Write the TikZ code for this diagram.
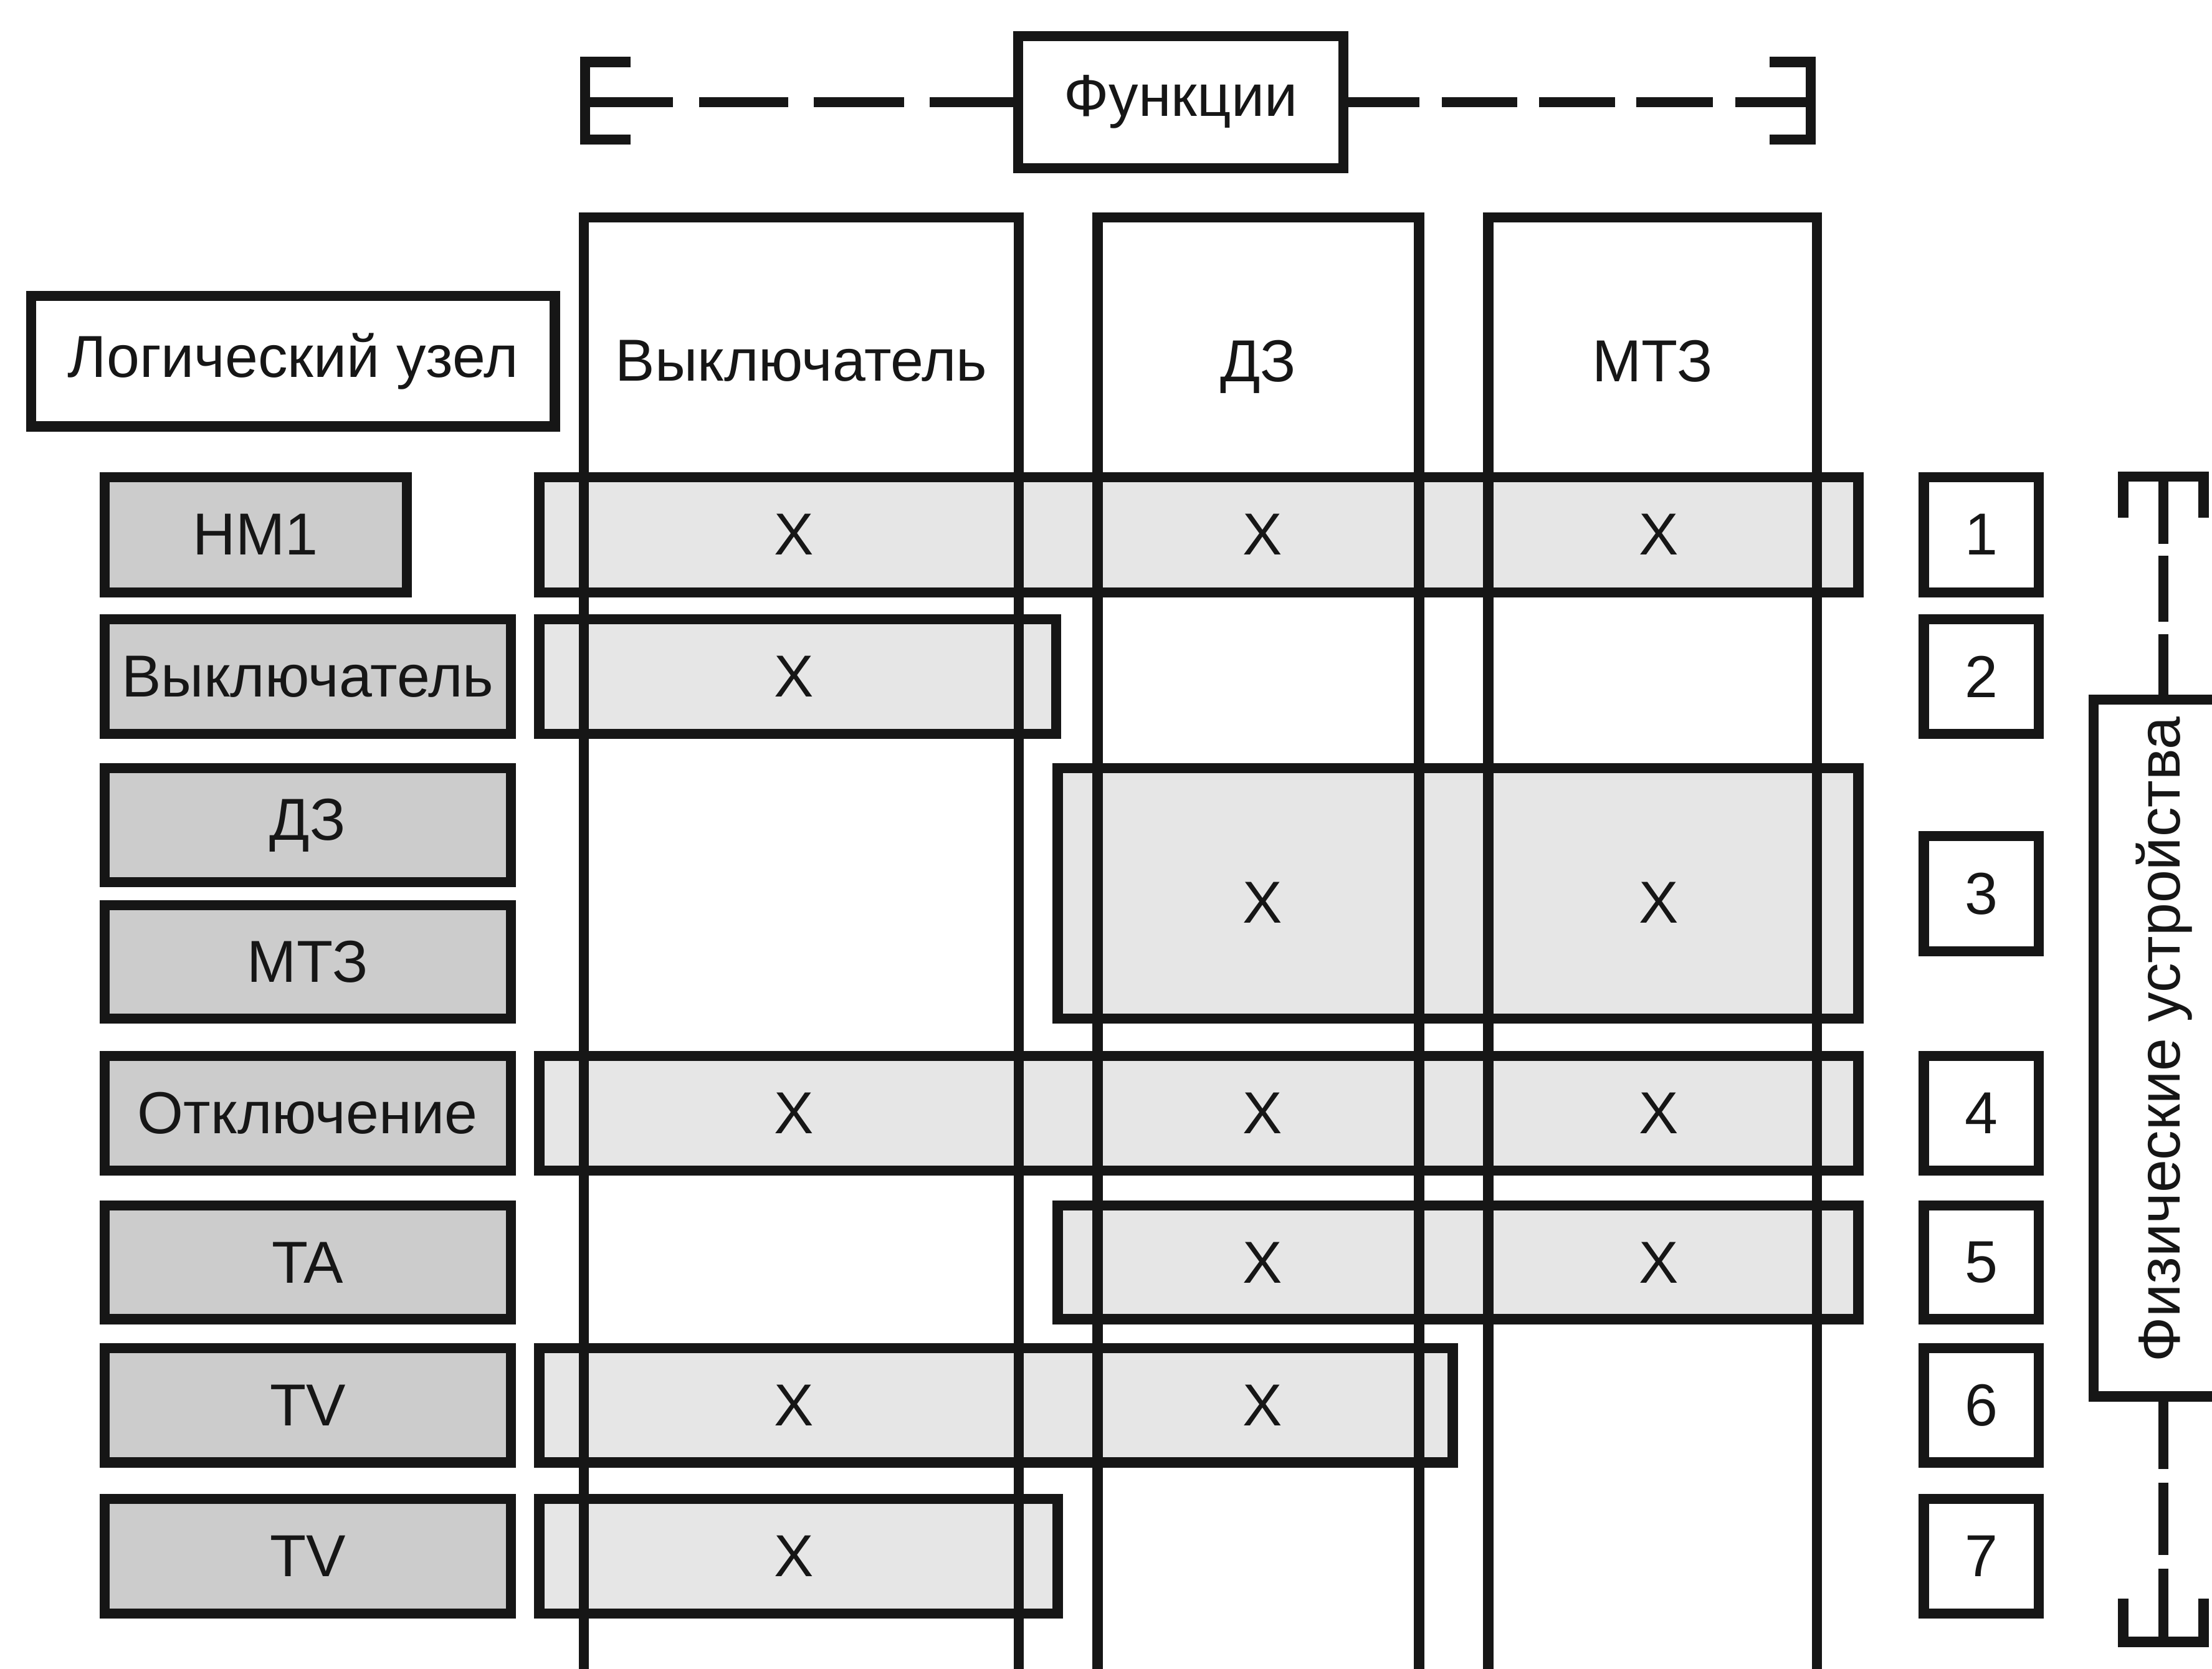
\documentclass[tikz,border=0pt]{standalone}
\usepackage{fontspec}
\setmainfont{Liberation Sans}
\usetikzlibrary{fit}
\definecolor{ink}{HTML}{161616}
\definecolor{nodegray}{HTML}{CCCCCC}
\definecolor{rowgray}{HTML}{E6E6E6}
\tikzset{
  frame/.style={draw=ink, line width=3.6pt, inner sep=0pt, outer sep=0pt, line join=miter},
  lnode/.style={frame, fill=nodegray},
  rowbox/.style={frame, fill=rowgray},
  wbox/.style={frame, fill=white},
  lbl/.style={inner sep=0pt, text=ink, font=\fontsize{21}{25}\selectfont},
  rule/.style={draw=ink, line width=3.6pt, line join=miter},
}
\begin{document}
\begin{tikzpicture}[x=0.5pt, y=-0.5pt]
\useasboundingbox (0,0) rectangle (1568,1183);
\clip (0,0) rectangle (1568,1183);

% ---- Functions header with bracket ----
\node[wbox, fit={(721.7,25.5) (952.3,119.3)}] (func) {};
\node[lbl] (tfunc) at (func.center) {Функции};
\draw[rule] (447,44) -- (414.6,44) -- (414.6,99) -- (447,99);
\draw[rule] (414.6,72.4) -- (477,72.4);
\draw[rule] (495.5,72.4) -- (558.7,72.4);
\draw[rule] (577,72.4) -- (641,72.4);
\draw[rule] (func.west) -- ++(-62.7,0);
\draw[rule] (func.east) -- ++(53.7,0);
\draw[rule] (1022,72.4) -- (1075.5,72.4);
\draw[rule] (1091,72.4) -- (1145,72.4);
\draw[rule] (1160,72.4) -- (1214,72.4);
\draw[rule] (1230,72.4) -- (1283.5,72.4);
\draw[rule] (1254.5,44) -- (1283.5,44) -- (1283.5,99) -- (1254.5,99);

% ---- Logical node title ----
\node[wbox, fit={(22,209.7) (393.3,302.3)}] (logic) {};
\node[lbl] (tlogic) at (logic.center) {Логический узел};

% ---- column headers ----
\node[lbl] (h1) at (568,256) {Выключатель};
\node[lbl, text depth=0pt] (h2) at (892,256) {ДЗ};
\node[lbl] (h3) at (1171.5,256) {МТЗ};

% ---- left logical nodes ----
\node[lnode, fit={(74.1,338.2) (288.3,419.9)}] (hm1) {};
\node[lbl] (thm1) at (hm1.center) {HM1};
\node[lnode, fit={(74.1,439.1) (362.1,520.3)}] (vykl) {};
\node[lbl] (tvykl) at (vykl.center) {Выключатель};
\node[lnode, fit={(74.1,544.7) (362.1,625.3)}] (dz) {};
\node[lbl] (tdz) at (dz.center) {ДЗ};
\node[lnode, fit={(74.1,641.7) (362.1,722.3)}] (mtz) {};
\node[lbl] (tmtz) at (mtz.center) {МТЗ};
\node[lnode, fit={(74.1,748.7) (362.1,829.8)}] (otkl) {};
\node[lbl] (totkl) at (otkl.center) {Отключение};
\node[lnode, fit={(74.1,854.7) (362.1,935.3)}] (ta) {};
\node[lbl] (tta) at (ta.center) {TA};
\node[lnode, fit={(74.1,955.7) (362.1,1036.9)}] (tva) {};
\node[lbl] (ttva) at (tva.center) {TV};
\node[lnode, fit={(74.1,1062.7) (362.1,1143.9)}] (tvb) {};
\node[lbl] (ttvb) at (tvb.center) {TV};

% ---- row boxes ----
\node[rowbox, fit={(382.3,338.2) (1317.3,419.9)}] (r1) {};
\node[rowbox, fit={(382.3,439.1) (748.5,520.3)}] (r2) {};
\node[rowbox, fit={(749.7,544.7) (1317.3,722.3)}] (r3) {};
\node[rowbox, fit={(382.3,748.7) (1317.3,829.8)}] (r4) {};
\node[rowbox, fit={(749.7,854.7) (1317.3,935.3)}] (r5) {};
\node[rowbox, fit={(382.3,955.7) (1029.8,1036.9)}] (r6) {};
\node[rowbox, fit={(382.3,1062.7) (749.8,1143.9)}] (r7) {};

% ---- columns (open at the bottom) ----
\draw[rule] (414,1195) -- (414,154) -- (722,154) -- (722,1195);
\draw[rule] (778,1195) -- (778,154) -- (1006,154) -- (1006,1195);
\draw[rule] (1055,1195) -- (1055,154) -- (1288,154) -- (1288,1195);

% ---- X marks ----
\node[lbl] (x11) at (563,379) {X};
\node[lbl] (x12) at (895,379) {X};
\node[lbl] (x13) at (1176,379) {X};
\node[lbl] (x21) at (563,479.7) {X};
\node[lbl] (x32) at (895,640) {X};
\node[lbl] (x33) at (1176,640) {X};
\node[lbl] (x41) at (563,789.3) {X};
\node[lbl] (x42) at (895,789.3) {X};
\node[lbl] (x43) at (1176,789.3) {X};
\node[lbl] (x52) at (895,895) {X};
\node[lbl] (x53) at (1176,895) {X};
\node[lbl] (x61) at (563,996.3) {X};
\node[lbl] (x62) at (895,996.3) {X};
\node[lbl] (x71) at (563,1103.3) {X};

% ---- device numbers ----
\node[wbox, fit={(1363.7,338.2) (1445.3,419.9)}] (n1) {};
\node[lbl] (tn1) at (n1.center) {1};
\node[wbox, fit={(1363.7,439.1) (1445.3,520.3)}] (n2) {};
\node[lbl] (tn2) at (n2.center) {2};
\node[wbox, fit={(1363.7,592.7) (1445.3,674.3)}] (n3) {};
\node[lbl] (tn3) at (n3.center) {3};
\node[wbox, fit={(1363.7,748.7) (1445.3,829.8)}] (n4) {};
\node[lbl] (tn4) at (n4.center) {4};
\node[wbox, fit={(1363.7,854.7) (1445.3,935.3)}] (n5) {};
\node[lbl] (tn5) at (n5.center) {5};
\node[wbox, fit={(1363.7,955.7) (1445.3,1036.9)}] (n6) {};
\node[lbl] (tn6) at (n6.center) {6};
\node[wbox, fit={(1363.7,1062.7) (1445.3,1143.9)}] (n7) {};
\node[lbl] (tn7) at (n7.center) {7};

% ---- physical devices bracket ----
\draw[rule] (1505,367) -- (1505,338) -- (1562,338) -- (1562,367);
\draw[rule] (1533.4,338) -- (1533.4,385.7);
\draw[rule] (1533.4,394) -- (1533.4,441);
\draw[rule] (1533.4,449.5) -- (1533.4,496);
\node[wbox, fit={(1484,496) (1600,990)}] (phys) {};
\node[lbl, rotate=90] (tphys) at (1534,737) {Физические устройства};
\draw[rule] (1533.4,990) -- (1533.4,1041.5);
\draw[rule] (1533.4,1051) -- (1533.4,1102.4);
\draw[rule] (1533.4,1112) -- (1533.4,1164);
\draw[rule] (1505,1133.4) -- (1505,1164) -- (1562,1164) -- (1562,1133.4);
\end{tikzpicture}
\end{document}
